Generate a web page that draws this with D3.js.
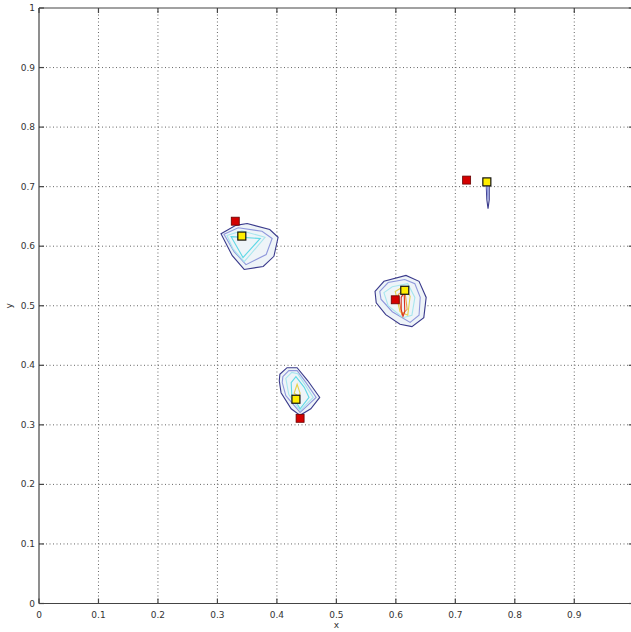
<!DOCTYPE html>
<html><head><meta charset="utf-8">
<script src="https://cdn.jsdelivr.net/npm/d3@7"></script>
<style>body{margin:0;background:#fff;overflow:hidden}svg{display:block}</style>
</head><body>
<script>
const xTicks = [0,0.1,0.2,0.3,0.4,0.5,0.6,0.7,0.8,0.9];
const yTicks = [0,0.1,0.2,0.3,0.4,0.5,0.6,0.7,0.8,0.9,1];
const xTickLabels = ["0","0.1","0.2","0.3","0.4","0.5","0.6","0.7","0.8","0.9"];
const yTickLabels = ["0","0.1","0.2","0.3","0.4","0.5","0.6","0.7","0.8","0.9","1"];
const redPoints = [[0.330,0.642],[0.439,0.311],[0.599,0.510],[0.719,0.711]];
const yellowPoints = [[0.341,0.617],[0.432,0.343],[0.615,0.526],[0.753,0.708]];
const levelColors = ["#3a3a8c","#8f98dc","#a8e6ee","#5fd8e6","#e6d24a","#f0a040","#d83020"];
// contours: each cluster = list of [level, polygon]
const cluster1 = [
  [0,[[0.306,0.621],[0.331,0.635],[0.350,0.638],[0.388,0.628],[0.402,0.615],[0.395,0.583],[0.377,0.566],[0.345,0.561],[0.325,0.584]]],
  [1,[[0.311,0.620],[0.335,0.631],[0.375,0.625],[0.392,0.613],[0.382,0.586],[0.348,0.569],[0.328,0.591]]],
  [2,[[0.316,0.618],[0.341,0.626],[0.380,0.615],[0.358,0.589],[0.345,0.574],[0.326,0.596]]],
  [3,[[0.323,0.616],[0.372,0.613],[0.343,0.581]]]
];
const cluster2 = [
  [0,[[0.405,0.385],[0.417,0.396],[0.434,0.396],[0.452,0.374],[0.472,0.346],[0.457,0.327],[0.439,0.316],[0.424,0.327],[0.407,0.354],[0.404,0.374]]],
  [1,[[0.410,0.381],[0.420,0.391],[0.434,0.391],[0.449,0.371],[0.466,0.346],[0.439,0.321],[0.415,0.349],[0.409,0.371]]],
  [2,[[0.415,0.378],[0.425,0.388],[0.435,0.386],[0.447,0.368],[0.461,0.346],[0.439,0.324],[0.420,0.351]]],
  [3,[[0.424,0.371],[0.432,0.381],[0.446,0.363],[0.454,0.346],[0.439,0.327],[0.425,0.351]]],
  [4,[[0.429,0.353],[0.434,0.368],[0.439,0.353],[0.437,0.348]]]
];
const cluster3 = [
  [0,[[0.565,0.524],[0.580,0.541],[0.617,0.551],[0.639,0.541],[0.651,0.514],[0.647,0.480],[0.627,0.465],[0.607,0.469],[0.583,0.485],[0.567,0.505]]],
  [1,[[0.573,0.524],[0.587,0.539],[0.615,0.544],[0.632,0.537],[0.641,0.514],[0.639,0.484],[0.624,0.472],[0.594,0.490],[0.575,0.511]]],
  [2,[[0.580,0.522],[0.594,0.532],[0.620,0.537],[0.632,0.514],[0.627,0.484],[0.612,0.480],[0.587,0.500]]],
  [4,[[0.599,0.524],[0.612,0.532],[0.624,0.516],[0.620,0.484],[0.607,0.490]]],
  [5,[[0.604,0.519],[0.615,0.527],[0.619,0.494],[0.610,0.485]]],
  [6,[[0.609,0.514],[0.614,0.522],[0.615,0.490],[0.612,0.482],[0.609,0.494]]]
];
const cluster4 = [
  [0,[[0.752,0.702],[0.757,0.702],[0.757,0.678],[0.755,0.663],[0.753,0.678]]],
  [1,[[0.753,0.700],[0.755,0.700],[0.755,0.678]]]
];
const clusters = [cluster1, cluster2, cluster3, cluster4];

const W = 631, H = 632;
const mLeft = 39, mTop = 8, pw = 594.75, ph = 595.5;
const svg = d3.select("body").append("svg").attr("width", W).attr("height", H);
const x = d3.scaleLinear().domain([0,1]).range([mLeft, mLeft+pw]);
const y = d3.scaleLinear().domain([0,1]).range([mTop+ph, mTop]);
const font = "DejaVu Sans, sans-serif";

// grid
const g = svg.append("g");
g.selectAll(".vg").data(xTicks.slice(1)).join("line")
  .attr("x1", d=>x(d)).attr("x2", d=>x(d)).attr("y1", y(0)).attr("y2", y(1))
  .attr("stroke", "#666").attr("stroke-width", 1).attr("stroke-dasharray", "1,2.5");
g.selectAll(".hg").data(yTicks.slice(1,-1)).join("line")
  .attr("y1", d=>y(d)).attr("y2", d=>y(d)).attr("x1", x(0)).attr("x2", x(1))
  .attr("stroke", "#666").attr("stroke-width", 1).attr("stroke-dasharray", "1,2.5");

// contours
const line = d3.line().x(d=>x(d[0])).y(d=>y(d[1])).curve(d3.curveLinearClosed);
clusters.forEach(cl => {
  const cg = svg.append("g");
  cg.append("path").attr("d", line(cl[0][1])).attr("fill", "#eef4f8").attr("stroke", "none");
  cl.forEach(([lv, poly]) => {
    cg.append("path").attr("d", line(poly)).attr("fill", "none")
      .attr("stroke", levelColors[lv]).attr("stroke-width", 1.1);
  });
});

// axes
const ax = svg.append("g").attr("stroke", "#444").attr("stroke-width", 1.2);
ax.append("line").attr("x1", x(0)).attr("x2", x(1)).attr("y1", y(0)).attr("y2", y(0));
ax.append("line").attr("x1", x(0)).attr("x2", x(1)).attr("y1", y(1)).attr("y2", y(1));
ax.append("line").attr("x1", x(0)).attr("x2", x(0)).attr("y1", y(0)).attr("y2", y(1));
ax.append("line").attr("x1", x(1)).attr("x2", x(1)).attr("y1", y(0)).attr("y2", y(1));
xTicks.forEach(t => {
  ax.append("line").attr("x1", x(t)).attr("x2", x(t)).attr("y1", y(0)).attr("y2", y(0)-5);
  ax.append("line").attr("x1", x(t)).attr("x2", x(t)).attr("y1", y(1)).attr("y2", y(1)+5);
});
yTicks.forEach(t => {
  ax.append("line").attr("y1", y(t)).attr("y2", y(t)).attr("x1", x(0)).attr("x2", x(0)+5);
  ax.append("line").attr("y1", y(t)).attr("y2", y(t)).attr("x1", x(1)).attr("x2", x(1)-5);
});

svg.selectAll(".xl").data(xTicks).join("text")
  .attr("x", d=>x(d)).attr("y", y(0)+14).attr("text-anchor", "middle")
  .attr("font-family", font).attr("font-size", 9).attr("fill", "#333")
  .text((d,i)=>xTickLabels[i]);
svg.selectAll(".yl").data(yTicks).join("text")
  .attr("x", x(0)-4).attr("y", d=>y(d)+3).attr("text-anchor", "end")
  .attr("font-family", font).attr("font-size", 9).attr("fill", "#333")
  .text((d,i)=>yTickLabels[i]);
svg.append("text").attr("x", x(0.5)).attr("y", y(0)+24).attr("text-anchor", "middle")
  .attr("font-family", font).attr("font-size", 9).attr("fill", "#333").text("x");
svg.append("text").attr("transform", `translate(12,${y(0.5)}) rotate(-90)`).attr("text-anchor", "middle")
  .attr("font-family", font).attr("font-size", 9).attr("fill", "#333").text("y");

// markers
const s = 8;
svg.selectAll(".rp").data(redPoints).join("rect")
  .attr("x", d=>x(d[0])-s/2).attr("y", d=>y(d[1])-s/2).attr("width", s).attr("height", s)
  .attr("fill", "#d40000").attr("stroke", "#600").attr("stroke-width", 0.8);
svg.selectAll(".yp").data(yellowPoints).join("rect")
  .attr("x", d=>x(d[0])-s/2).attr("y", d=>y(d[1])-s/2).attr("width", s).attr("height", s)
  .attr("fill", "#ffee00").attr("stroke", "#111").attr("stroke-width", 1.2);
</script>
</body></html>
